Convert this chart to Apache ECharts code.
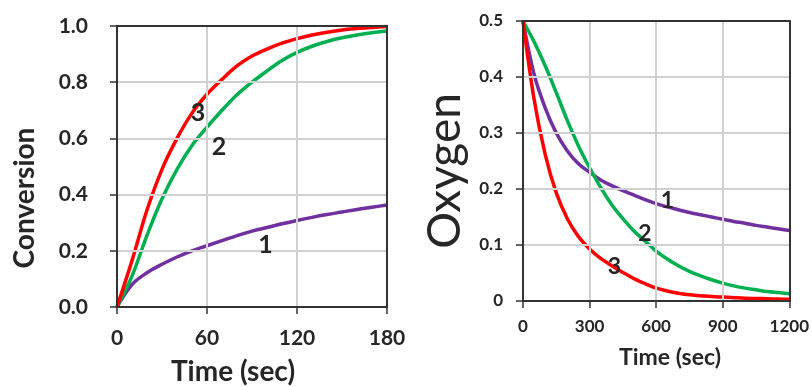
<!DOCTYPE html>
<html>
<head>
<meta charset="utf-8">
<script src="https://cdn.jsdelivr.net/npm/echarts@6/dist/echarts.min.js"></script>
<style>
  html, body { margin: 0; padding: 0; background: #fff; }
  #chart { width: 812px; height: 387px; }
</style>
</head>
<body>
<div id="chart"></div>
<script>
// left panel: conversion vs time, every 10 s
const convTime = [0, 10, 20, 30, 40, 50, 60, 70, 80, 90, 100, 110, 120, 130, 140, 150, 160, 170, 180];
const conv1 = [0, 0.08, 0.122, 0.152, 0.178, 0.2, 0.218, 0.236, 0.254, 0.27, 0.283, 0.296, 0.308, 0.319, 0.329, 0.338, 0.347, 0.355, 0.363];
const conv2 = [0, 0.11, 0.255, 0.385, 0.49, 0.575, 0.64, 0.70, 0.755, 0.80, 0.84, 0.877, 0.906, 0.928, 0.945, 0.958, 0.968, 0.976, 0.982];
const conv3 = [0, 0.165, 0.345, 0.49, 0.60, 0.69, 0.757, 0.81, 0.858, 0.893, 0.918, 0.939, 0.955, 0.968, 0.978, 0.986, 0.991, 0.995, 0.998];

// right panel: oxygen vs time, every 50 s
const oxyTime = [0, 50, 100, 150, 200, 250, 300, 350, 400, 450, 500, 550, 600, 650, 700, 750, 800, 850, 900, 950, 1000, 1050, 1100, 1150, 1200];
const oxy1 = [0.5, 0.405, 0.345, 0.300, 0.268, 0.245, 0.23, 0.216, 0.206, 0.197, 0.189, 0.181, 0.174, 0.168, 0.163, 0.158, 0.154, 0.150, 0.146, 0.142, 0.139, 0.135, 0.132, 0.129, 0.126];
const oxy2 = [0.5, 0.463, 0.42, 0.372, 0.322, 0.277, 0.238, 0.203, 0.172, 0.147, 0.125, 0.107, 0.089, 0.075, 0.063, 0.053, 0.045, 0.038, 0.032, 0.027, 0.023, 0.02, 0.017, 0.015, 0.013];
const oxy3 = [0.5, 0.36, 0.262, 0.193, 0.147, 0.115, 0.093, 0.076, 0.063, 0.051, 0.040, 0.031, 0.023, 0.018, 0.014, 0.011, 0.0095, 0.008, 0.007, 0.006, 0.005, 0.0045, 0.004, 0.0035, 0.003];

// curve label positions [time, value, text]
const convLabels = [[99, 0.22, '1'], [68, 0.57, '2'], [54, 0.689, '3']];
const oxyLabels = [[651, 0.18, '1'], [549, 0.121, '2'], [412, 0.061, '3']];

const FONT = 'Lato, "Open Sans", sans-serif';
const TEXT = '#262626';
const AXIS = '#333';
const COLORS = ['#7030a0', '#00b050', '#ff0000'];

function pairs(xs, ys) {
  return xs.map((x, i) => [x, ys[i]]);
}

const tick = { show: true, inside: false, length: 7, lineStyle: { color: AXIS, width: 1.5 } };
const line = { show: true, onZero: false, lineStyle: { color: AXIS, width: 2 } };
const split = { show: true, showMinLine: false, showMaxLine: false, lineStyle: { color: '#d0d0d0', width: 2 } };

function makeAxis(index, max, interval, fontSize, margin, fmt) {
  return {
    type: 'value', gridIndex: index, min: 0, max: max, interval: interval,
    axisLine: line, axisTick: tick, splitLine: split, z: 5,
    axisLabel: { color: TEXT, fontFamily: FONT, fontWeight: 'bold', fontSize: fontSize, margin: margin, formatter: fmt },
  };
}

// plain axis on the far side, used only to close the plot box
function boxAxis(index, max, pos) {
  return {
    type: 'value', gridIndex: index, min: 0, max: max, position: pos,
    axisLine: line, axisTick: { show: false }, axisLabel: { show: false }, splitLine: { show: false }, z: 5,
  };
}

function makeSeries(index, xs, ys, color, label, labelSize) {
  return {
    type: 'line', xAxisIndex: index, yAxisIndex: index,
    data: pairs(xs, ys), smooth: 0.35, showSymbol: false,
    lineStyle: { color: color, width: 3.5 }, z: 3,
    markPoint: {
      symbol: 'circle', symbolSize: 1, itemStyle: { color: 'rgba(0,0,0,0)' },
      label: { show: true, position: 'inside', color: TEXT, fontFamily: FONT, fontWeight: 'bold', fontSize: labelSize, formatter: label[2] },
      data: [{ coord: [label[0], label[1]] }],
    },
  };
}

const chart = echarts.init(document.getElementById('chart'));
chart.setOption({
  animation: false,
  grid: [
    { left: 117, top: 26, width: 270, height: 281 },
    { left: 523, top: 21, width: 268, height: 280 },
  ],
  xAxis: [
    makeAxis(0, 180, 60, 21, 21, (v) => String(v)),
    makeAxis(1, 1200, 300, 17, 17, (v) => String(v)),
    boxAxis(0, 180, 'top'),
    boxAxis(1, 1200, 'top'),
  ],
  yAxis: [
    makeAxis(0, 1.0, 0.2, 21, 29, (v) => v.toFixed(1)),
    makeAxis(1, 0.5, 0.1, 17, 20, (v) => (v === 0 ? '0' : v.toFixed(1))),
    boxAxis(0, 1.0, 'right'),
    boxAxis(1, 0.5, 'right'),
  ],
  graphic: [
    { type: 'text', x: 25, y: 198, rotation: Math.PI / 2, style: { text: 'Conversion', fill: TEXT, font: 'bold 28px ' + FONT, textAlign: 'center', textVerticalAlign: 'middle' } },
    { type: 'text', x: 233, y: 372, style: { text: 'Time (sec)', fill: TEXT, font: 'bold 28px ' + FONT, textAlign: 'center', textVerticalAlign: 'middle' } },
    { type: 'text', x: 445, y: 171, rotation: Math.PI / 2, style: { text: 'Oxygen', fill: TEXT, font: '46px ' + FONT, textAlign: 'center', textVerticalAlign: 'middle' } },
    { type: 'text', x: 670, y: 358, style: { text: 'Time (sec)', fill: TEXT, font: 'bold 23px ' + FONT, textAlign: 'center', textVerticalAlign: 'middle' } },
  ],
  series: [
    makeSeries(0, convTime, conv1, COLORS[0], convLabels[0], 25),
    makeSeries(0, convTime, conv2, COLORS[1], convLabels[1], 25),
    makeSeries(0, convTime, conv3, COLORS[2], convLabels[2], 25),
    makeSeries(1, oxyTime, oxy1, COLORS[0], oxyLabels[0], 23),
    makeSeries(1, oxyTime, oxy2, COLORS[1], oxyLabels[1], 23),
    makeSeries(1, oxyTime, oxy3, COLORS[2], oxyLabels[2], 23),
  ],
});
</script>
</body>
</html>
